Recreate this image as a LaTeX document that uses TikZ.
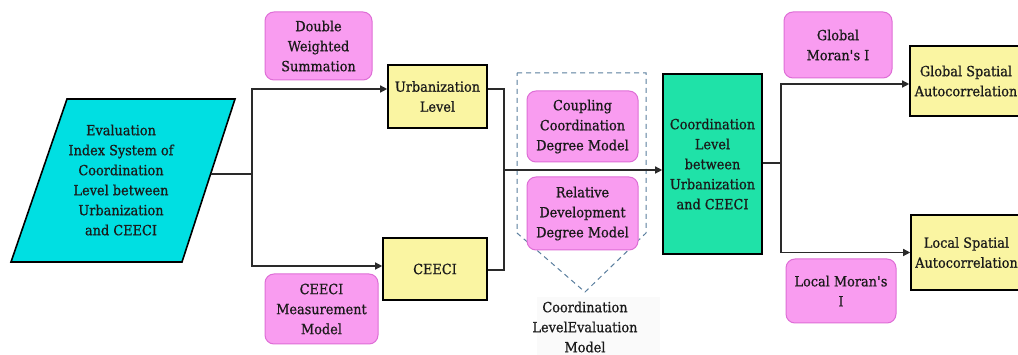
\documentclass[tikz,border=0pt]{standalone}
\usepackage{fontspec}
\setmainfont{DejaVu Serif}[FakeStretch=0.92, FakeBold=0.7]
\usetikzlibrary{arrows.meta,calc}
\definecolor{pinkfill}{HTML}{F99CF0}
\definecolor{pinkdraw}{HTML}{DE6ED6}
\definecolor{yellowfill}{HTML}{FAF5A2}
\definecolor{greenfill}{HTML}{1FE2A8}
\definecolor{cyanfill}{HTML}{00DFE2}
\definecolor{dashcol}{HTML}{5A7E9E}
\definecolor{txt}{HTML}{1A1A1A}
\definecolor{linecol}{HTML}{2A2A2A}
\tikzset{
  every node/.style={font=\fontsize{14}{20}\selectfont, text=txt, align=center, inner sep=0pt},
  pinkbox/.style={draw=pinkdraw, fill=pinkfill, line width=1pt, rounded corners=9pt},
  yellowbox/.style={draw=black, fill=yellowfill, line width=1.6pt},
  greenbox/.style={draw=black, fill=greenfill, line width=1.6pt},
  conn/.style={draw=linecol, line width=1.3pt},
  arr/.style={conn, -{Triangle[length=7pt,width=7pt]}},
}
\begin{document}
\begin{tikzpicture}[x=1pt,y=-1pt]
\useasboundingbox (0,0) rectangle (1018,355);
\clip (0,0) rectangle (1018,355);
\fill[white] (0,0) rectangle (1018,355);

% input parallelogram
\draw[fill=cyanfill, line width=1.6pt, draw=black] (67,99) -- (235,99) -- (182,262) -- (11,262) -- cycle;
\node (eval) at (121,180) {Evaluation\\Index System of\\Coordination\\Level between\\Urbanization\\and CEECI};
\coordinate (pr) at (211,174);

% dashed group
\draw[dashcol, line width=1pt, dash pattern=on 5pt off 4pt] (517,73) -- (646,73) -- (646,233) -- (585,292) -- (517,233) -- cycle;
\node[fill=black!2, minimum width=123pt, minimum height=58pt] (grp) at (598,326) {};
\node (grplabel) at (585,327) {Coordination\\LevelEvaluation\\Model};

% boxes
\node[yellowbox, minimum width=99pt, minimum height=63pt] (urb) at (437.5,96.5) {Urbanization\\Level};
\node[yellowbox, minimum width=104pt, minimum height=62pt] (ceeci) at (435,269) {CEECI};
\node[pinkbox, minimum width=107pt, minimum height=68pt] (dws) at (318.5,46) {Double\\Weighted\\Summation};
\node[pinkbox, minimum width=113pt, minimum height=70pt] (cmm) at (321.5,309) {CEECI\\Measurement\\Model};
\node[pinkbox, minimum width=111pt, minimum height=71pt] (ccdm) at (582.5,126.5) {Coupling\\Coordination\\Degree Model};
\node[pinkbox, minimum width=111pt, minimum height=73pt] (rddm) at (582.5,213.5) {Relative\\Development\\Degree Model};
\node[greenbox, minimum width=99pt, minimum height=180pt] (coord) at (712.5,164) {Coordination\\Level\\between\\Urbanization\\and CEECI};
\node[pinkbox, minimum width=108pt, minimum height=66pt] (gmi) at (838,45) {Global\\Moran\textquotesingle s I};
\node[pinkbox, minimum width=110pt, minimum height=64pt] (lmi) at (841,291) {Local Moran\textquotesingle s\\I};
\node[yellowbox, minimum width=112pt, minimum height=70pt] (gsa) at (966,81) {Global Spatial\\Autocorrelation};
\node[yellowbox, minimum width=111pt, minimum height=75pt] (lsa) at (966.5,252.5) {Local Spatial\\Autocorrelation};

% connectors
\coordinate (j1) at (252,174);
\coordinate (j2) at (504,170);
\coordinate (j3) at (781,163);
\draw[conn] (pr) -- (j1);
\draw[arr] (j1) |- ([yshift=7.5pt]urb.west);
\draw[arr] (j1) |- ([yshift=3pt]ceeci.west);
\draw[conn] ([yshift=7.5pt]urb.east) -| (j2);
\draw[conn] ([yshift=-1pt]ceeci.east) -| (j2);
\draw[arr] (j2) -- (j2 -| coord.west);
\draw[conn] (coord.east |- j3) -- (j3);
\draw[arr] (j3) |- ([yshift=-3pt]gsa.west);
\draw[arr] (j3) |- (lsa.west);
\end{tikzpicture}
\end{document}
